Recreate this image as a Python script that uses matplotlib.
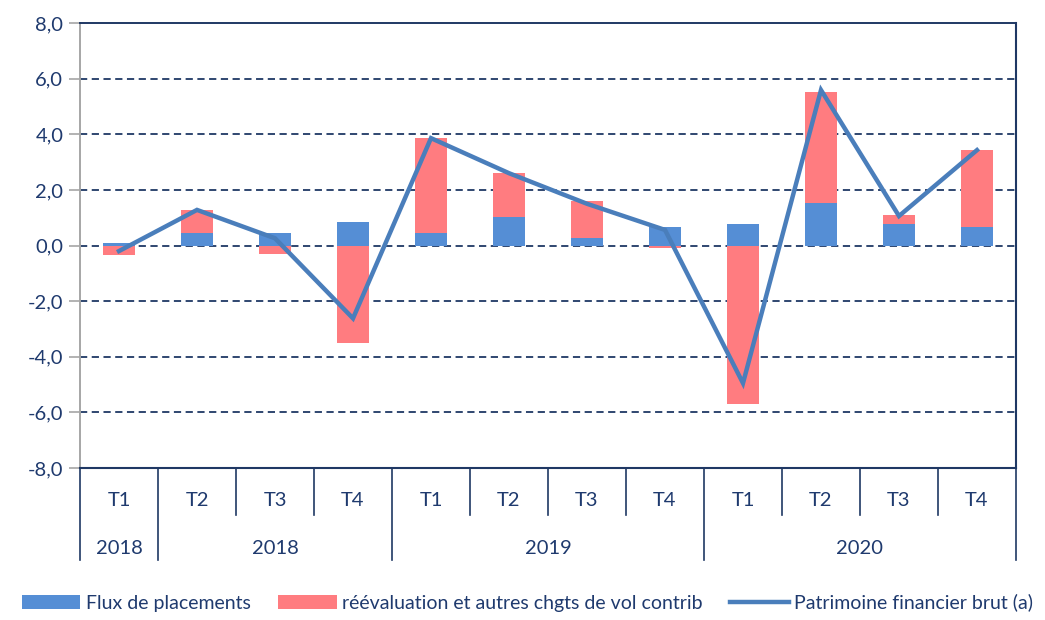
import numpy as np
import matplotlib.pyplot as plt
import matplotlib.transforms as mtransforms
from matplotlib.patches import Patch
from matplotlib.lines import Line2D

plt.rcParams['font.family'] = ['Lato', 'DejaVu Sans']

# Data
quarters = ['T1', 'T2', 'T3', 'T4', 'T1', 'T2', 'T3', 'T4', 'T1', 'T2', 'T3', 'T4']
years = ['2018', '2018', '2019', '2020']
year_spans = [1, 3, 4, 4]
flux = [0.08, 0.46, 0.45, 0.83, 0.45, 1.02, 0.28, 0.65, 0.77, 1.54, 0.78, 0.65]
reeval = [-0.35, 0.82, -0.30, -3.50, 3.43, 1.60, 1.32, -0.10, -5.70, 3.98, 0.32, 2.78]
patrimoine = [-0.20, 1.28, 0.26, -2.62, 3.86, 2.60, 1.50, 0.56, -4.95, 5.59, 1.06, 3.43]

blue = '#558ED5'
red = '#FF7C80'
line_col = '#4A7EBB'
navy = '#1F3864'
txt = '#1F3A6E'

fig = plt.figure(figsize=(10.45, 6.2), dpi=100)
ax = fig.add_axes([80 / 1045, 1 - 468 / 620, 936 / 1045, 445 / 620])

x = np.arange(len(quarters))
flux = np.array(flux)
reeval = np.array(reeval)
# stacking: positives on positives, negatives on negatives
red_bottom = np.where(reeval >= 0, np.maximum(flux, 0), np.minimum(flux, 0))
ax.bar(x, flux, width=0.41, color=blue, zorder=2)
ax.bar(x, reeval, bottom=red_bottom, width=0.41, color=red, zorder=2)
ax.plot(x, patrimoine, color=line_col, linewidth=3.2, solid_joinstyle='miter', zorder=3)

ax.set_xlim(-0.5, len(quarters) - 0.5)
ax.set_ylim(-8, 8)
yt = np.arange(-8, 8.1, 2)
ax.set_yticks(yt)
ax.set_yticklabels([f'{v:.1f}'.replace('.', ',') for v in yt], fontsize=14.5, color=txt)
ax.tick_params(axis='y', length=8, width=1.2, color='#A6A6A6', pad=4)
ax.set_xticks([])
for v in np.arange(-6, 6.1, 2):
    ax.axhline(v, color=navy, linestyle=(0, (4, 2.5)), linewidth=1.3, zorder=1)

ax.spines['top'].set_color(navy)
ax.spines['top'].set_linewidth(1.4)
ax.spines['left'].set_color('#A6A6A6')
ax.spines['left'].set_linewidth(1.4)
ax.spines['right'].set_color(navy)
ax.spines['right'].set_linewidth(1.5)
ax.spines['bottom'].set_color(navy)
ax.spines['bottom'].set_linewidth(1.5)

# hierarchical category axis
trans = mtransforms.blended_transform_factory(ax.transData, ax.transAxes)
short_y = -47 / 445
long_y = -92 / 445
year_edges = np.cumsum([0] + year_spans) - 0.5
for i in range(len(quarters) + 1):
    xb = i - 0.5
    y_end = long_y if xb in year_edges else short_y
    ax.plot([xb, xb], [0, y_end], transform=trans, color=navy, linewidth=1.2, clip_on=False)
for i, q in enumerate(quarters):
    ax.text(i, -32 / 445, q, transform=trans, ha='center', va='center', fontsize=14.5, color=txt)
for k, yr in enumerate(years):
    xc = (year_edges[k] + year_edges[k + 1]) / 2
    ax.text(xc, -80 / 445, yr, transform=trans, ha='center', va='center', fontsize=14.5, color=txt)

handles = [Patch(facecolor=blue), Patch(facecolor=red),
           Line2D([0], [0], color=line_col, linewidth=3.2)]
labels = ['Flux de placements', 'réévaluation et autres chgts de vol contrib',
          'Patrimoine financier brut (a)']
fig.legend(handles, labels, loc='center', bbox_to_anchor=(0.505, 0.028), ncol=3,
           frameon=False, fontsize=14, handlelength=3.0, handletextpad=0.3,
           columnspacing=1.4, labelcolor=txt)

fig.savefig('out.png', dpi=100)
